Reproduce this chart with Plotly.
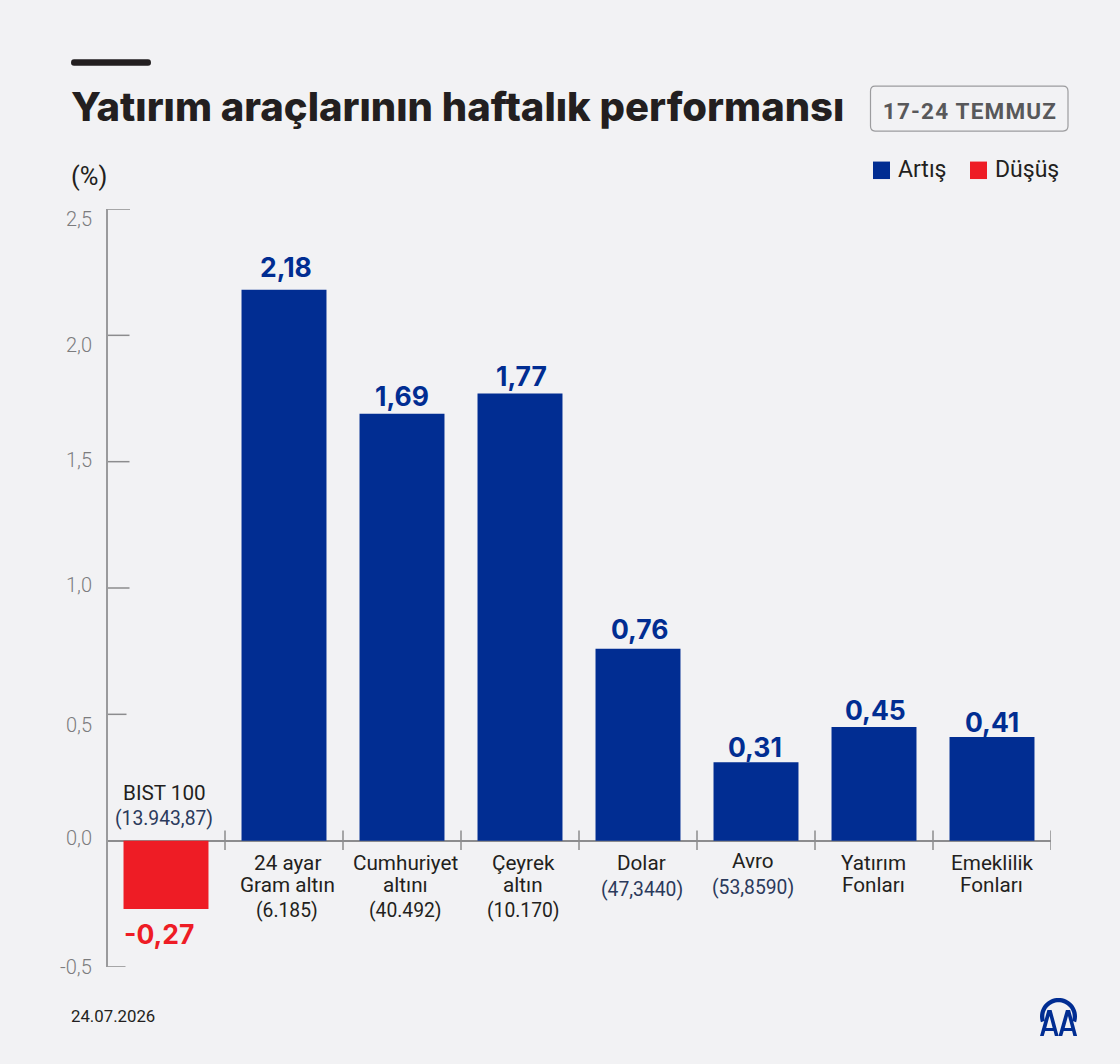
import math
import plotly.graph_objects as go

# Weekly returns by instrument
categories = ["BIST 100", "24 ayar Gram altın", "Cumhuriyet altını", "Çeyrek altın",
              "Dolar", "Avro", "Yatırım Fonları", "Emeklilik Fonları"]
values = [-0.27, 2.18, 1.69, 1.77, 0.76, 0.31, 0.45, 0.41]
tick_values = [2.5, 2.0, 1.5, 1.0, 0.5, 0.0, -0.5]
tick_labels = ["2,5", "2,0", "1,5", "1,0", "0,5", "0,0", "-0,5"]
category_lines = [
    ["BIST 100", "(13.943,87)"],
    ["24 ayar", "Gram altın", "(6.185)"],
    ["Cumhuriyet", "altını", "(40.492)"],
    ["Çeyrek", "altın", "(10.170)"],
    ["Dolar", "(47,3440)"],
    ["Avro", "(53,8590)"],
    ["Yatırım", "Fonları"],
    ["Emeklilik", "Fonları"],
]
navy_prices = ["(13.943,87)", "(47,3440)", "(53,8590)"]
legend_names = ["Artış", "Düşüş"]

W, H = 1120, 1064
L, R, T, B = 107, 1051, 208.5, 967.5
BG = "#f2f2f4"
BLUE = "#012d92"
RED = "#ee1c25"
INK = "#231f20"
NAVY = "#2b3a5c"
GREY = "#8c8c8e"
TICK_TEXT = "#7c7c7e"
AXIS = "#9a9a9c"
HEAD = "Inter"
BODY = "Roboto"


def px(x):
    return (x - L) / (R - L)


def py(y):
    return (B - y) / (B - T)


def label(x, y, text, size, color, anchor="center", family=BODY, weight=400):
    # Annotation boxes carry a little padding, so edge-anchored text is nudged outwards
    nudge = {"left": -2.5, "right": 2, "center": 0}[anchor]
    return dict(x=px(x + nudge), y=py(y), xref="paper", yref="paper", text=text, showarrow=False,
                xanchor=anchor, yanchor="middle", align=anchor,
                font=dict(family=family, size=size, color=color, weight=weight))


def rect(x0, y0, x1, y1, fill):
    return dict(type="rect", xref="paper", yref="paper", x0=px(x0), x1=px(x1), y0=py(y0), y1=py(y1),
                fillcolor=fill, line=dict(width=0), layer="above")


def polygon(points):
    head, *rest = points
    return (f"M{px(head[0])},{py(head[1])} "
            + " ".join(f"L{px(a)},{py(b)}" for a, b in rest) + " Z")


def filled(path, fill):
    return dict(type="path", xref="paper", yref="paper", layer="above", fillcolor=fill,
                line=dict(width=0), path=path)


fig = go.Figure(go.Bar(
    x=list(range(len(values))), y=values, width=0.72,
    marker=dict(color=[BLUE if v >= 0 else RED for v in values], line=dict(width=0)),
    hoverinfo="skip", showlegend=False,
))

annotations = []
shapes = []

# Value labels sit just beyond the end of each bar
value_xshift = [-7, 2, 0, 1, 1, -1, 1, 0]
value_yshift = [-7, 5, 0, -1, 2, -3, -1, -3]
for i, v in enumerate(values):
    annotations.append(dict(
        x=i, y=v, xref="x", yref="y", showarrow=False,
        text=f"{v:.2f}".replace(".", ","),
        xshift=value_xshift[i], yshift=value_yshift[i],
        yanchor="bottom" if v >= 0 else "top", xanchor="center",
        font=dict(family=HEAD, size=26.5, color=BLUE if v >= 0 else RED, weight=700),
    ))

# Category captions: names in ink, quoted prices slightly smaller
caption_x = [164, 287, 405, 523, 641.5, 752.5, 873, 991.5]
caption_y = [
    [793, 819], [863, 885, 911], [863, 885, 911], [863, 885, 911],
    [863, 890], [861, 888], [863, 885], [863, 885],
]
for cx, lines, ys in zip(caption_x, category_lines, caption_y):
    for text, y in zip(lines, ys):
        is_price = text.startswith("(")
        annotations.append(label(cx, y, text, 19.3 if is_price else 20.7,
                                 NAVY if text in navy_prices else INK))

# Y scale captions and tick marks
tick_label_y = [219, 345, 460, 585, 725, 838, 967]
tick_ends = [130, 129.5, 129.5, 129.5, 126.5, 107, 125.5]
for text, y in zip(tick_labels, tick_label_y):
    annotations.append(label(92, y, text, 20, TICK_TEXT, anchor="right", weight=300))
for v, end in zip(tick_values, tick_ends):
    shapes.append(dict(type="line", xref="paper", yref="y", x0=0, x1=px(end), y0=v, y1=v,
                       line=dict(color=GREY, width=1.5), layer="above"))

# Vertical axis
shapes.append(dict(type="line", xref="paper", yref="y", x0=0, x1=0, y0=tick_values[-1], y1=tick_values[0],
                   line=dict(color=AXIS, width=2), layer="above"))

# Boundary ticks between categories on the zero line
for i in range(1, len(values) + 1):
    shapes.append(dict(type="line", xref="x", yref="y", x0=i - 0.5, x1=i - 0.5, y0=-0.037, y1=0.04,
                       line=dict(color=GREY, width=1.5), layer="above"))

# Heading block
shapes.append(filled(f"M{px(74)},{py(58.5)} L{px(148)},{py(58.5)} "
                     f"Q{px(151)},{py(58.5)} {px(151)},{py(62)} Q{px(151)},{py(65)} {px(148)},{py(65)} "
                     f"L{px(74)},{py(65)} Q{px(71)},{py(65)} {px(71)},{py(62)} Q{px(71)},{py(58.5)} {px(74)},{py(58.5)} Z",
                     INK))
annotations.append(label(71, 106, "Yatırım araçlarının haftalık performansı", 40, INK, anchor="left",
                         family=HEAD, weight=800))
shapes.append(dict(type="path", xref="paper", yref="paper", layer="above", fillcolor="rgba(0,0,0,0)",
                   line=dict(color="#9c9c9e", width=1.2),
                   path=f"M{px(875)},{py(85.5)} L{px(1063)},{py(85.5)} Q{px(1068)},{py(85.5)} {px(1068)},{py(90.5)} "
                        f"L{px(1068)},{py(125.5)} Q{px(1068)},{py(130.5)} {px(1063)},{py(130.5)} L{px(875)},{py(130.5)} "
                        f"Q{px(870.5)},{py(130.5)} {px(870.5)},{py(125.5)} L{px(870.5)},{py(90.5)} "
                        f"Q{px(870.5)},{py(85.5)} {px(875)},{py(85.5)} Z"))
annotations.append(label(969.5, 110, "17-24 TEMMUZ", 22.5, "#58585a", weight=700))
annotations.append(label(71, 175, "(%)", 25.5, INK, anchor="left"))

# Legend
shapes.append(rect(873, 161, 890, 178.5, BLUE))
annotations.append(label(898, 169, legend_names[0], 23, INK, anchor="left"))
shapes.append(rect(970, 161, 987, 178.5, RED))
annotations.append(label(995, 169, legend_names[1], 23, INK, anchor="left"))

# Footer
annotations.append(label(71, 1017, "24.07.2026", 16.8, INK, anchor="left"))

# Agency mark: an arch over two capital A's
cx, cy, outer, inner = 1058.5, 1017, 18.5, 14.2
sweep = [math.radians(a) for a in range(-18, 199, 6)]
arch = [(cx + outer * math.cos(a), cy - outer * math.sin(a)) for a in sweep]
arch += [(cx + inner * math.cos(a), cy - inner * math.sin(a)) for a in reversed(sweep)]
shapes.append(filled(polygon(arch), BLUE))
for dx in (0, 18.5):
    glyph = [(1040 + dx, 1036.5), (1047.4 + dx, 1010.5), (1051.6 + dx, 1010.5), (1058.6 + dx, 1036.5),
             (1054.9 + dx, 1036.5), (1053.6 + dx, 1031.5), (1045.2 + dx, 1031.5), (1043.7 + dx, 1036.5)]
    counter = [(1046.2 + dx, 1028.5), (1052.7 + dx, 1028.5), (1049.5 + dx, 1016.5)]
    # Opposite winding keeps the counter open under the nonzero fill rule
    shapes.append(filled(polygon(glyph) + " " + polygon(list(reversed(counter))), BLUE))

fig.update_layout(
    width=W, height=H, autosize=False,
    paper_bgcolor=BG, plot_bgcolor=BG,
    margin=dict(l=L, r=W - R, t=T, b=H - B, pad=0),
    bargap=0.28, showlegend=False,
    xaxis=dict(range=[-0.5, 7.5], showgrid=False, zeroline=False, showticklabels=False, ticks="", showline=False),
    yaxis=dict(range=[-0.5, 2.5], tickvals=tick_values, ticks="", showticklabels=False, showgrid=False,
               showline=False, zeroline=True, zerolinecolor=GREY, zerolinewidth=1.5),
    annotations=annotations, shapes=shapes,
)

# The date badge is tracked out a little
tracking = """
var gd = document.querySelector('.js-plotly-plot');
function trackBadge() {
  document.querySelectorAll('.annotation-text').forEach(function (node) {
    if (node.textContent === '17-24 TEMMUZ') { node.style.letterSpacing = '1.2px'; }
  });
}
trackBadge();
gd.on('plotly_afterplot', trackBadge);
"""
fig.write_html("out.html", config=dict(displayModeBar=False), post_script=tracking)
